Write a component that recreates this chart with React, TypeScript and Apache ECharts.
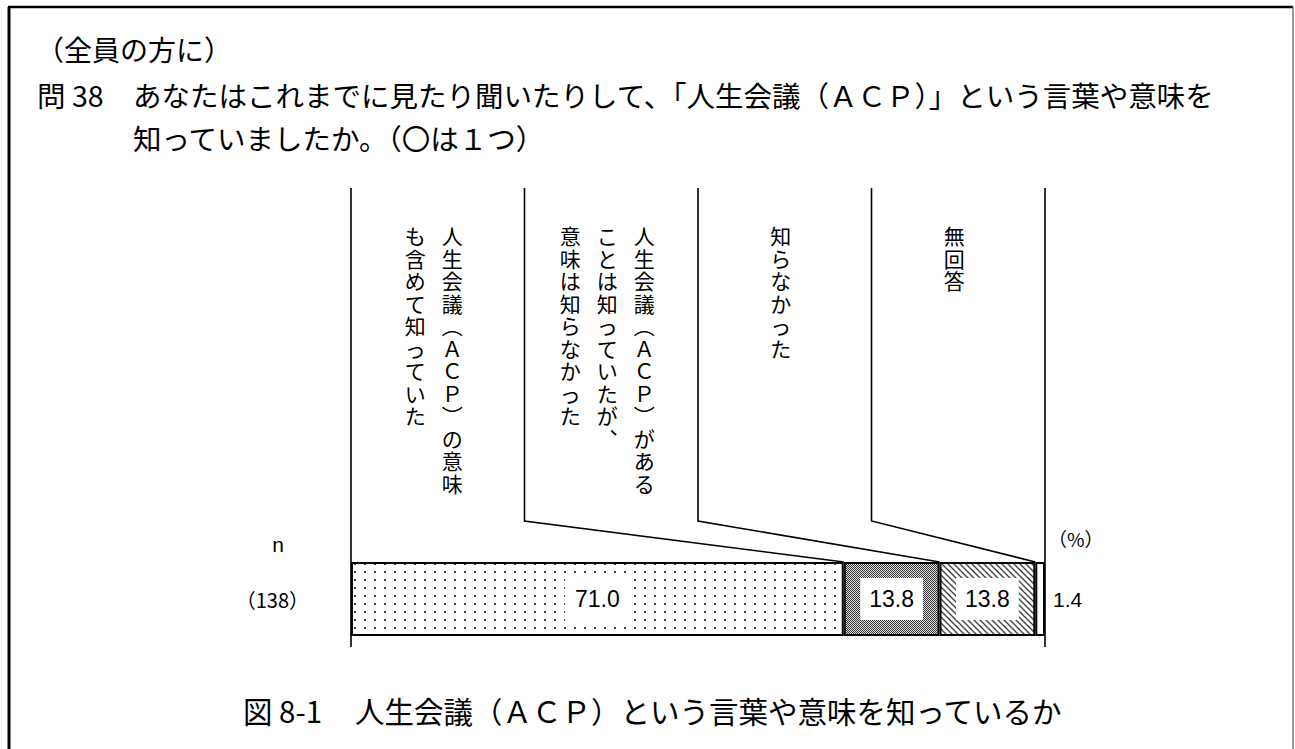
import React, { useEffect, useRef } from "react";
import * as echarts from "echarts";

const FONT = "'Noto Sans CJK JP', 'Noto Sans', sans-serif";
const NUMFONT = "'Liberation Sans', Arial, sans-serif";

const categories = ["（138）"];
const seriesNames = [
  "人生会議（ＡＣＰ）の意味も含めて知っていた",
  "人生会議（ＡＣＰ）があることは知っていたが、意味は知らなかった",
  "知らなかった",
  "無回答",
];
const values = [71.0, 13.8, 13.8, 1.4];
// vertical header text, columns listed right-to-left
const headerColumns: string[][] = [
  ["人生会議︵ＡＣＰ︶の意味", "も含めて知っていた"],
  ["人生会議︵ＡＣＰ︶がある", "ことは知っていたが︑", "意味は知らなかった"],
  ["知らなかった"],
  ["無回答"],
];
const titleLines = [
  "（全員の方に）",
  "問 38",
  "あなたはこれまでに見たり聞いたりして、「人生会議（ＡＣＰ）」という言葉や意味を",
  "知っていましたか。（〇は１つ）",
];
const captionNo = "図 8-1";
const captionText = "人生会議（ＡＣＰ）という言葉や意味を知っているか";
const sampleLabel = "n";
const unitLabel = "（%）";

function makeDots(): HTMLCanvasElement {
  const c = document.createElement("canvas");
  c.width = 10;
  c.height = 8;
  const ctx = c.getContext("2d")!;
  ctx.fillStyle = "#fff";
  ctx.fillRect(0, 0, 10, 8);
  ctx.fillStyle = "#444";
  ctx.fillRect(4, 3, 2, 2);
  return c;
}
function makeChecker(): HTMLCanvasElement {
  const c = document.createElement("canvas");
  c.width = 2;
  c.height = 2;
  const ctx = c.getContext("2d")!;
  ctx.fillStyle = "#dadada";
  ctx.fillRect(0, 0, 2, 2);
  ctx.fillStyle = "#3a3a3a";
  ctx.fillRect(0, 0, 1, 1);
  ctx.fillRect(1, 1, 1, 1);
  return c;
}
function makeHatch(): HTMLCanvasElement {
  const s = 6;
  const c = document.createElement("canvas");
  c.width = s;
  c.height = s;
  const ctx = c.getContext("2d")!;
  ctx.fillStyle = "#fff";
  ctx.fillRect(0, 0, s, s);
  ctx.strokeStyle = "#444";
  ctx.lineWidth = 1.4;
  ctx.beginPath();
  ctx.moveTo(-1, -1);
  ctx.lineTo(s + 1, s + 1);
  ctx.moveTo(-1, s - 1);
  ctx.lineTo(1, s + 1);
  ctx.moveTo(s - 1, -1);
  ctx.lineTo(s + 1, 1);
  ctx.stroke();
  return c;
}

export default function App() {
  const ref = useRef<HTMLDivElement>(null);
  useEffect(() => {
    if (!ref.current) return;
    const chart = echarts.init(ref.current, null, { renderer: "svg" });
    const fills: any[] = [
      { image: makeDots(), repeat: "repeat" },
      { image: makeChecker(), repeat: "repeat" },
      { image: makeHatch(), repeat: "repeat" },
      "#fff",
    ];
    const gridTop = 562;
    const gridHeight = 74;
    const option: any = {
      animation: false,
      backgroundColor: "#fff",
      textStyle: { fontFamily: FONT },
      grid: { left: 351, top: gridTop, width: 694, height: gridHeight },
      xAxis: { type: "value", min: 0, max: 100, show: false },
      yAxis: {
        type: "category",
        data: categories,
        axisLine: { show: false },
        axisTick: { show: false },
        axisLabel: { margin: 42, fontSize: 20, color: "#000", fontFamily: FONT },
      },
      series: values.map((v, i) => ({
        type: "bar",
        name: seriesNames[i],
        stack: "total",
        barWidth: "100%",
        data: [v],
        itemStyle: { color: fills[i], borderColor: "#000", borderWidth: 2 },
        label:
          i < 3
            ? {
                show: true,
                position: "inside",
                formatter: (p: any) => Number(p.value).toFixed(1),
                backgroundColor: "#fff",
                padding: i === 0 ? [13, 10, 11, 10] : [10, 9, 9, 9],
                fontSize: 23,
                color: "#000",
                fontFamily: NUMFONT,
              }
            : {
                show: true,
                position: "right",
                distance: 8,
                formatter: (p: any) => Number(p.value).toFixed(1),
                fontSize: 21,
                color: "#000",
                fontFamily: NUMFONT,
              },
      })),
    };
    chart.setOption(option);

    // positions from the axis scale
    const xAt = (v: number) => chart.convertToPixel({ xAxisIndex: 0 }, v) as number;
    const x0 = xAt(0);
    const x4 = xAt(100);
    const cum: number[] = [];
    values.reduce((a, v) => {
      cum.push(a + v);
      return a + v;
    }, 0);
    const colW = (x4 - x0) / 4;
    const colX = [0, 1, 2, 3, 4].map((i) => x0 + i * colW);
    const lineTop = 188;
    const bendY = 521;
    const lineBottom = 647;
    const lineStyle = { stroke: "#000", lineWidth: 1.6, fill: "none" };

    const graphic: any[] = [];
    // frame
    graphic.push({ type: "line", shape: { x1: 9, y1: 7, x2: 9, y2: 749 }, style: { stroke: "#000", lineWidth: 3 } });
    graphic.push({ type: "line", shape: { x1: 8, y1: 7, x2: 1293, y2: 7 }, style: { stroke: "#000", lineWidth: 2.5 } });
    graphic.push({ type: "line", shape: { x1: 1293, y1: 7, x2: 1293, y2: 749 }, style: { stroke: "#555", lineWidth: 1.2 } });

    // outer vertical lines
    graphic.push({ type: "line", shape: { x1: x0, y1: lineTop, x2: x0, y2: lineBottom }, style: lineStyle });
    graphic.push({ type: "line", shape: { x1: x4, y1: lineTop, x2: x4, y2: lineBottom }, style: lineStyle });
    // leader lines
    for (let i = 1; i <= 3; i++) {
      graphic.push({
        type: "polyline",
        shape: { points: [[colX[i], lineTop], [colX[i], bendY], [xAt(cum[i - 1]), gridTop]] },
        style: lineStyle,
      });
    }
    // header vertical texts
    headerColumns.forEach((cols, c) => {
      const center = (colX[c] + colX[c + 1]) / 2 - 4;
      const n = cols.length;
      cols.forEach((txt, j) => {
        const cx = center + ((n - 1) / 2) * 37 - j * 37;
        graphic.push({
          type: "text",
          x: cx,
          y: 224,
          style: {
            text: Array.from(txt).join("\n"),
            fontSize: 21,
            lineHeight: 22.5,
            fontFamily: FONT,
            fill: "#000",
            align: "center",
            verticalAlign: "top",
          },
        });
      });
    });
    // n and (%)
    graphic.push({
      type: "text",
      x: 278,
      y: 544,
      style: { text: sampleLabel, fontSize: 21, fontFamily: NUMFONT, fill: "#000", align: "center", verticalAlign: "middle" },
    });
    graphic.push({
      type: "text",
      x: x4 + 3,
      y: 538,
      style: { text: unitLabel, fontSize: 19, fontFamily: FONT, fill: "#000", align: "left", verticalAlign: "middle" },
    });
    // titles
    const tStyle = (t: string, fs: number) => ({ text: t, fontSize: fs, fontFamily: FONT, fill: "#000", verticalAlign: "middle", align: "left" });
    graphic.push({ type: "text", x: 36, y: 49, style: tStyle(titleLines[0], 28) });
    graphic.push({ type: "text", x: 37, y: 94, style: tStyle(titleLines[1], 28.5) });
    graphic.push({ type: "text", x: 133, y: 94, style: tStyle(titleLines[2], 28.5) });
    graphic.push({ type: "text", x: 133, y: 137, style: tStyle(titleLines[3], 28.5) });
    // caption
    graphic.push({ type: "text", x: 243, y: 710, style: tStyle(captionNo, 29.5) });
    graphic.push({ type: "text", x: 355, y: 710, style: tStyle(captionText, 29.5) });

    chart.setOption({ graphic });
    return () => chart.dispose();
  }, []);
  return (
    <div
      ref={ref}
      style={{ position: "fixed", left: 0, top: 0, width: 1295, height: 749, background: "#fff" }}
    />
  );
}
